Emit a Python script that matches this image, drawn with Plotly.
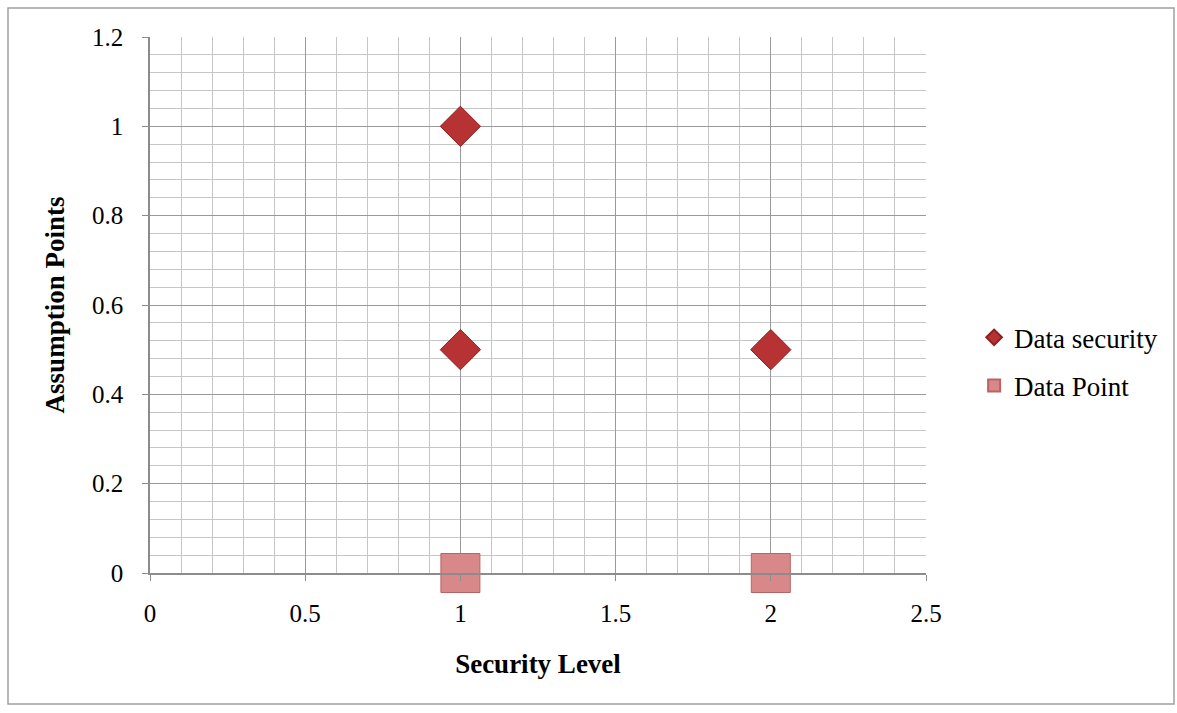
import plotly.graph_objects as go

# Series data
security_x = [1, 1, 2]
security_y = [1.0, 0.5, 0.5]
point_x = [1, 2]
point_y = [0, 0]

x_ticks = [0, 0.5, 1, 1.5, 2, 2.5]
x_labels = ["0", "0.5", "1", "1.5", "2", "2.5"]
y_ticks = [0, 0.2, 0.4, 0.6, 0.8, 1.0, 1.2]
y_labels = ["0", "0.2", "0.4", "0.6", "0.8", "1", "1.2"]

W, H = 1177, 713
L, R, T, B = 150, 251, 37, 140
FONT = "Liberation Serif, Times New Roman, serif"

fig = go.Figure()
fig.add_trace(go.Scatter(
    x=security_x, y=security_y, mode="markers", name="Data security",
    legendgroup="security",
    marker=dict(symbol="diamond", size=31, color="#B73232",
                line=dict(color="#8E1F1F", width=1)),
))
fig.add_trace(go.Scatter(
    x=point_x, y=point_y, mode="markers", name="Data Point",
    legendgroup="point",
    marker=dict(symbol="square", size=39, color="#D88888",
                line=dict(color="#B86464", width=1)),
    cliponaxis=False,
))

axis_common = dict(
    showline=True, linecolor="#8C8C8C", linewidth=1.5,
    ticks="outside", ticklen=6, tickcolor="#8C8C8C",
    gridcolor="#9A9A9A", gridwidth=1.3, zeroline=False,
    tickfont=dict(family=FONT, size=25, color="#000"),
    mirror=False,
)

fig.update_xaxes(
    range=[0, 2.5], tickvals=x_ticks, ticktext=x_labels,
    minor=dict(dtick=0.1, showgrid=True, gridcolor="#C6C6C6", gridwidth=1.2, ticks=""),
    title=dict(text="<b>Security Level</b>", font=dict(family=FONT, size=27, color="#000"),
               standoff=28),
    ticklabelstandoff=11,
    **axis_common,
)
fig.update_yaxes(
    range=[0, 1.2], tickvals=y_ticks, ticktext=y_labels,
    minor=dict(dtick=0.04, showgrid=True, gridcolor="#C6C6C6", gridwidth=1.2, ticks=""),
    title=dict(text="<b>Assumption Points</b>", font=dict(family=FONT, size=27, color="#000"),
               standoff=20),
    ticklabelstandoff=14,
    **axis_common,
)

# Outer chart frame
fig.add_shape(type="rect", xref="paper", yref="paper",
              x0=(8 - L) / (W - L - R), x1=(1174 - L) / (W - L - R),
              y0=-(704 - (H - B)) / (H - T - B), y1=1 + (T - 8) / (H - T - B),
              line=dict(color="#A0A0A0", width=1.5), fillcolor="rgba(0,0,0,0)",
              layer="below")

fig.update_layout(
    width=W, height=H,
    margin=dict(l=L, r=R, t=T, b=B, autoexpand=False),
    paper_bgcolor="white", plot_bgcolor="white",
    showlegend=True,
    legend=dict(x=1.062, y=0.394, xanchor="left", yanchor="middle",
                font=dict(family=FONT, size=27, color="#000"),
                traceorder="grouped", tracegroupgap=10, itemsizing="constant",
                bgcolor="rgba(0,0,0,0)"),
)

fig.write_html("out.html")
